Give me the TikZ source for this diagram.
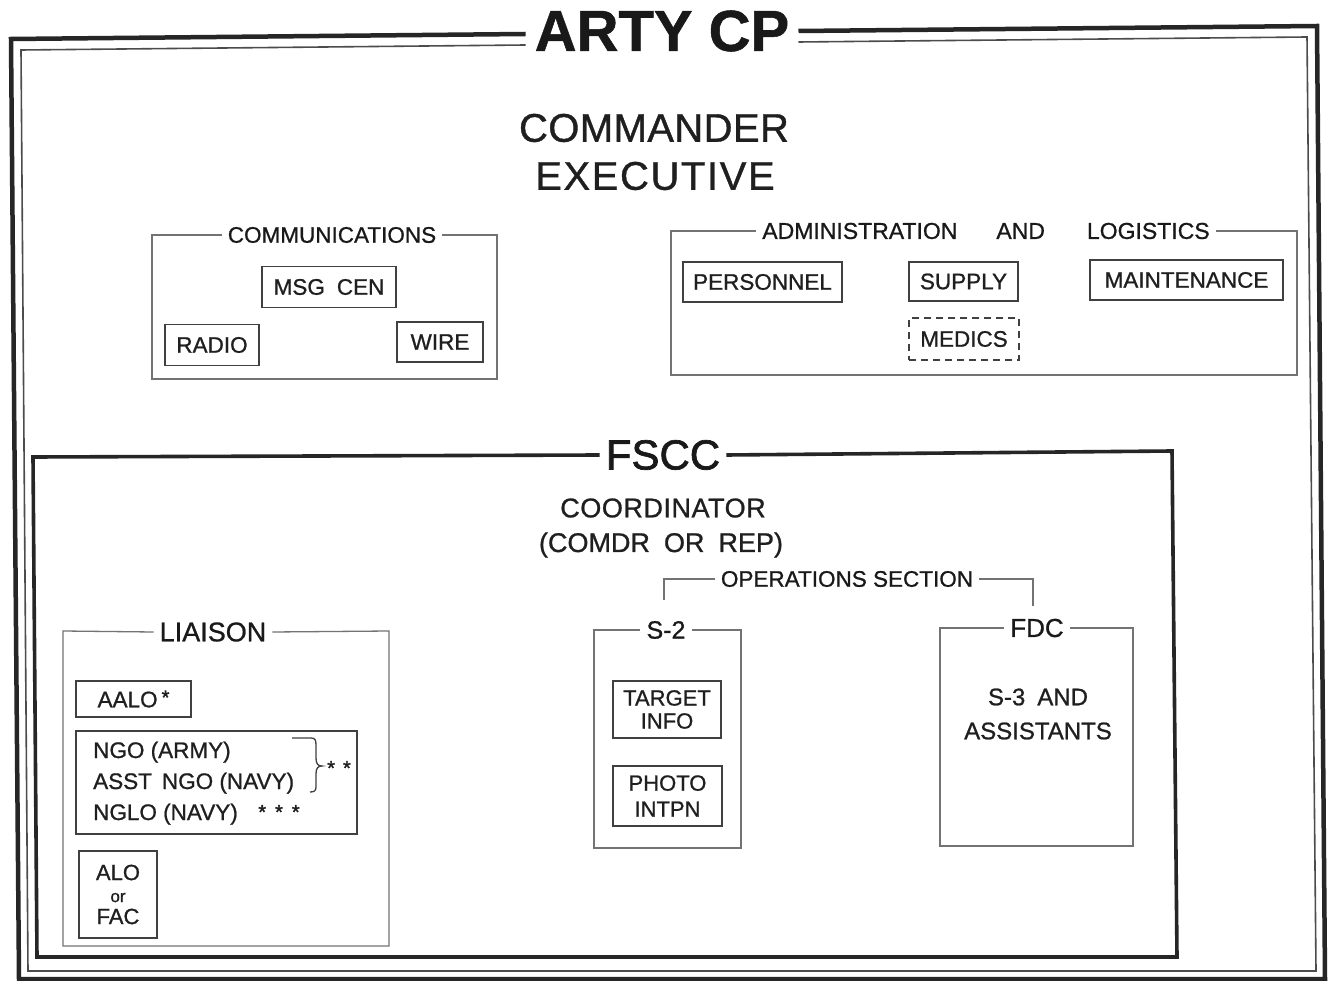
\documentclass[tikz,border=0pt]{standalone}
\usepackage{fontspec}
\setmainfont{Liberation Sans}[FakeBold=0.9]
\newfontfamily\heavy{Liberation Sans}[FakeBold=1.6]
\usetikzlibrary{calc}
\newcommand\fsz[1]{\fontsize{#1}{#1}\selectfont}
\tikzset{
  frameA/.style={line width=4.5pt, draw=black!85},
  frameB/.style={line width=1.6pt, draw=black!70},
  fsccline/.style={line width=3.6pt, draw=black!85},
  grpline/.style={line width=1.3pt, draw=black!55},
  ttl/.style={inner xsep=6pt, inner ysep=0pt, text=black!90},
  boxed/.style={draw=black!75, line width=1.8pt, inner sep=0pt, text=black!88, font=\fsz{22.5}, align=center},
  txt/.style={text=black!88, inner sep=0pt, align=center},
}
\begin{document}
\begin{tikzpicture}[x=1pt,y=-1pt]
\useasboundingbox[fill=white] (0,0) rectangle (1328,981);

% ---- outer frame ----
\node[ttl, font=\fsz{58}\bfseries, inner xsep=9pt] (arty) at (662,31) {ARTY CP};
\draw[frameA] ($(arty.west)+(0,3)$) -- (11,39) -- (19,979) -- (1325,979) -- (1317,26) -- (arty.east);
\draw[frameB] ($(arty.west)+(0,14)$) -- (21,50) -- (28,971) -- (1316,971) -- (1307,37) -- ($(arty.east)+(0,11)$);

\node[txt, font=\fsz{40}\addfontfeature{LetterSpace=1}] (cmd) at (654,128) {COMMANDER};
\node[txt, font=\fsz{40}\addfontfeature{LetterSpace=4}] (exe) at (655,176) {EXECUTIVE};

% ---- communications ----
\node[ttl, font=\fsz{22.5}] (comt) at (332,235) {COMMUNICATIONS};
\draw[grpline] (comt.west) -- (152,235) -- (152,379) -- (497,379) -- (497,235) -- (comt.east);
\node[boxed, minimum width=134, minimum height=41] (msg) at (329,287) {MSG\hspace{12pt}CEN};
\node[boxed, minimum width=94, minimum height=41] (radio) at (212,345) {RADIO};
\node[boxed, minimum width=86, minimum height=40] (wire) at (440,342) {WIRE};

% ---- administration and logistics ----
\node[ttl, font=\fsz{23}] (admt) at (986,231) {ADMINISTRATION\hspace{39pt}AND\hspace{42pt}LOGISTICS};
\draw[grpline] (admt.west) -- (671,231) -- (671,375) -- (1297,375) -- (1297,231) -- (admt.east);
\node[boxed, minimum width=159, minimum height=40] (pers) at (762.5,282) {PERSONNEL};
\node[boxed, minimum width=109, minimum height=39] (supp) at (963.5,281.5) {SUPPLY};
\node[boxed, minimum width=193, minimum height=40] (mnt) at (1186.5,280) {MAINTENANCE};
\node[boxed, dashed, dash pattern=on 7pt off 5pt, line width=1.5pt, minimum width=110, minimum height=42] (med) at (964,339) {MEDICS};

% ---- FSCC ----
\node[ttl, font=\fsz{42}\heavy] (fscc) at (663,455) {FSCC};
\draw[fsccline] (fscc.west) -- (33,457) -- (37,957) -- (1177,957) -- (1172,451) -- (fscc.east);
\node[txt, font=\fsz{27}\addfontfeature{LetterSpace=2}] (coord) at (663,508) {COORDINATOR};
\node[txt, font=\fsz{27}] (comdr) at (661,545) {(COMDR\hspace{14pt}OR\hspace{14pt}REP)};

% operations section bracket
\node[ttl, font=\fsz{22.5}] (ops) at (847,579) {OPERATIONS SECTION};
\coordinate (opsL) at (664,600);
\coordinate (opsR) at (1033,606);
\draw[grpline] (ops.west) -- (opsL |- ops.west) -- (opsL);
\draw[grpline] (ops.east) -- (opsR |- ops.east) -- (opsR);

% S-2
\node[ttl, font=\fsz{25}] (s2t) at (666,630) {S-2};
\draw[grpline] (s2t.west) -- (594,630) -- (594,848) -- (741,848) -- (741,630) -- (s2t.east);
\node[boxed, font=\fontsize{22}{23}\selectfont, minimum width=108, minimum height=57] (tgt) at (667,709.5) {TARGET\\INFO};
\node[boxed, font=\fontsize{22}{26}\selectfont, minimum width=109, minimum height=60] (photo) at (667.5,796) {PHOTO\\INTPN};

% FDC
\node[ttl, font=\fsz{26}] (fdct) at (1037,628) {FDC};
\draw[grpline] (fdct.west) -- (940,628) -- (940,846) -- (1133,846) -- (1133,628) -- (fdct.east);
\node[txt, font=\fontsize{24}{34}\selectfont] (s3) at (1038,714) {S-3\hspace{12pt}AND\\ASSISTANTS};

% LIAISON
\node[ttl, font=\fsz{27}] (liat) at (213,632) {LIAISON};
\draw[grpline] (liat.west) -- (63,631) -- (63,946) -- (389,946) -- (389,631) -- (liat.east);
\node[boxed, minimum width=115, minimum height=36] (aalo) at (133.5,699) {AALO\hspace{4pt}\raisebox{3pt}{\fsz{20}\heavy*}};
\node[boxed, minimum width=281, minimum height=103] (ngobox) at (216.5,782.5) {};
\node[txt, font=\fsz{22.5}, anchor=base west] (ngo1) at (93,758) {NGO (ARMY)};
\node[txt, font=\fsz{22.5}, anchor=base west] (ngo2) at (93,789) {ASST\hspace{10pt}NGO (NAVY)};
\node[txt, font=\fsz{22.5}, anchor=base west] (ngo3) at (93,820) {NGLO (NAVY)};
\node[txt, font=\fsz{20}\heavy] (ast3) at (279,812) {*\hspace{9pt}*\hspace{9pt}*};
\draw[line width=1.3pt, black!75] (292,738) -- (311,738) .. controls (315,738) and (316,740) .. (316,745) -- (316,758) .. controls (316,764) and (318,766) .. (322,766) .. controls (318,766) and (316,768) .. (316,774) -- (316,787) .. controls (316,791) and (314,792) .. (310,792);
\node[txt, font=\fsz{20}\heavy] (ast2) at (339,768) {*\hspace{8pt}*};
\node[boxed, font=\fontsize{22}{22}\selectfont, minimum width=78, minimum height=87] (alo) at (118,894.5) {ALO\\{\fsz{17}or}\\FAC};

\end{tikzpicture}
\end{document}
